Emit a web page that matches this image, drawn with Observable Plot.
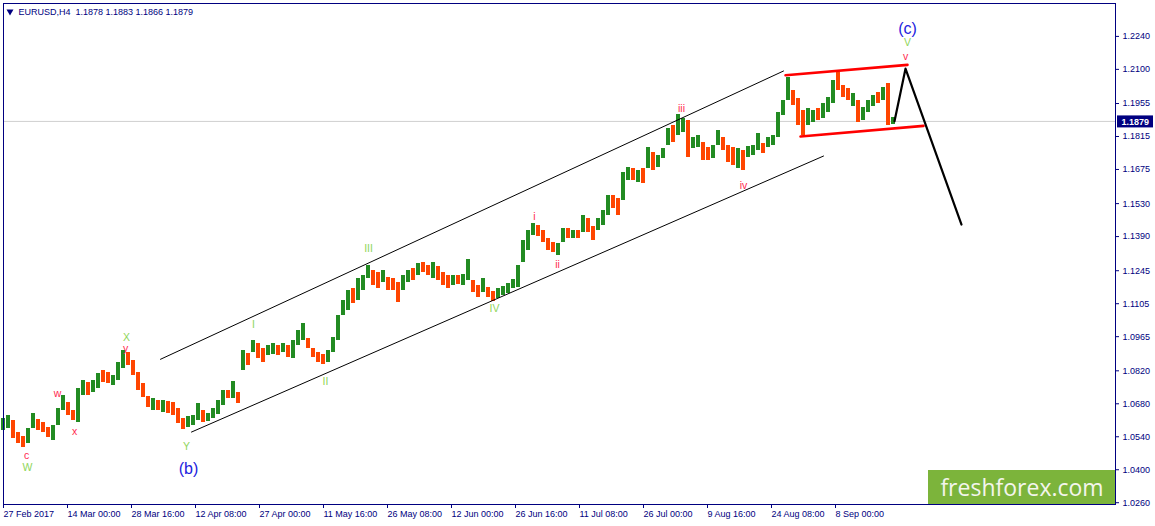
<!DOCTYPE html>
<html><head><meta charset="utf-8">
<script src="https://cdn.jsdelivr.net/npm/d3@7"></script>
<script src="https://cdn.jsdelivr.net/npm/@observablehq/plot@0.6"></script>
<style>html,body{margin:0;padding:0;background:#fff;}</style>
</head><body><div id="chart"></div>
<script>
// ---- header ----
const symbol = "EURUSD";
const timeframe = "H4";
const lastOHLC = [1.1878, 1.1883, 1.1866, 1.1879];

// ---- price history, sampled every 5 H4 bars (group high / low, group direction) ----
const groupBars = 5;
const hi = [
1.0618,1.0631,1.0609,1.0558,1.0541,1.0575,1.0638,1.0614,1.0601,1.0580,
1.0588,1.0660,1.0716,1.0686,1.0651,1.0745,1.0779,1.0770,1.0779,1.0809,
1.0822,1.0813,1.0800,1.0856,1.0906,1.0898,1.0864,1.0813,1.0766,1.0711,
1.0703,1.0694,1.0694,1.0690,1.0686,1.0660,1.0618,1.0627,1.0631,1.0681,
1.0651,1.0638,1.0660,1.0694,1.0737,1.0737,1.0774,1.0728,1.0906,1.0893,
1.0949,1.0936,1.0915,1.0928,1.0936,1.0928,1.0936,1.0928,1.0949,1.0992,
1.1021,1.0957,1.0915,1.0898,1.0889,1.0906,1.0962,1.1055,1.1119,1.1161,
1.1169,1.1212,1.1225,1.1267,1.1247,1.1238,1.1247,1.1217,1.1212,1.1195,
1.1225,1.1247,1.1255,1.1275,1.1280,1.1267,1.1280,1.1263,1.1238,1.1225,
1.1225,1.1225,1.1229,1.1293,1.1204,1.1182,1.1212,1.1174,1.1157,1.1169,
1.1178,1.1191,1.1208,1.1267,1.1374,1.1416,1.1446,1.1437,1.1416,1.1381,
1.1365,1.1361,1.1424,1.1424,1.1416,1.1416,1.1480,1.1467,1.1433,1.1467,
1.1501,1.1565,1.1565,1.1552,1.1662,1.1683,1.1679,1.1671,1.1679,1.1768,
1.1748,1.1735,1.1764,1.1849,1.1862,1.1908,1.1891,1.1883,1.1811,1.1819,
1.1789,1.1768,1.1776,1.1841,1.1811,1.1776,1.1768,1.1764,1.1755,1.1772,
1.1776,1.1828,1.1785,1.1811,1.1819,1.1917,1.1968,1.2066,1.2010,1.1977,
1.1925,1.1934,1.1925,1.1934,1.1955,1.1981,1.2053,1.2087,1.2031,1.2018,
1.1997,1.1968,1.1938,1.1968,1.1990,1.2001,1.2023,1.2040,1.1895
];
const lo = [
1.0567,1.0575,1.0532,1.0511,1.0495,1.0511,1.0575,1.0567,1.0558,1.0537,
1.0524,1.0588,1.0651,1.0631,1.0609,1.0601,1.0716,1.0716,1.0728,1.0745,
1.0770,1.0766,1.0758,1.0779,1.0830,1.0843,1.0800,1.0737,1.0707,1.0664,
1.0651,1.0651,1.0643,1.0638,1.0631,1.0597,1.0571,1.0580,1.0588,1.0609,
1.0601,1.0605,1.0618,1.0635,1.0673,1.0703,1.0703,1.0681,1.0822,1.0843,
1.0898,1.0873,1.0856,1.0885,1.0889,1.0885,1.0898,1.0877,1.0873,1.0928,
1.0949,1.0915,1.0877,1.0856,1.0847,1.0856,1.0898,1.0949,1.1055,1.1076,
1.1106,1.1119,1.1161,1.1212,1.1182,1.1169,1.1195,1.1161,1.1161,1.1111,
1.1161,1.1195,1.1204,1.1225,1.1238,1.1225,1.1212,1.1204,1.1182,1.1169,
1.1182,1.1187,1.1182,1.1204,1.1152,1.1131,1.1152,1.1131,1.1115,1.1128,
1.1140,1.1148,1.1169,1.1174,1.1280,1.1331,1.1394,1.1390,1.1365,1.1331,
1.1323,1.1310,1.1365,1.1381,1.1381,1.1381,1.1407,1.1407,1.1374,1.1416,
1.1437,1.1480,1.1510,1.1480,1.1543,1.1628,1.1628,1.1620,1.1616,1.1679,
1.1671,1.1683,1.1722,1.1776,1.1789,1.1819,1.1832,1.1726,1.1764,1.1768,
1.1713,1.1713,1.1722,1.1776,1.1755,1.1705,1.1692,1.1679,1.1671,1.1726,
1.1735,1.1755,1.1743,1.1768,1.1776,1.1811,1.1904,1.1968,1.1947,1.1862,
1.1819,1.1862,1.1874,1.1883,1.1891,1.1917,1.1955,1.2010,1.1981,1.1968,
1.1942,1.1874,1.1883,1.1917,1.1942,1.1955,1.1968,1.1862,1.1866
];
const up = [
1,1,0,0,0,1,1,0,0,0,
1,1,1,0,0,1,1,0,1,1,
0,0,1,1,1,0,0,0,0,0,
1,0,1,0,0,0,0,1,1,1,
0,1,1,1,1,0,1,0,1,0,
1,0,0,1,1,0,1,0,1,1,
1,0,0,0,0,1,1,1,1,1,
0,1,1,1,0,0,1,0,0,0,
1,1,0,1,0,0,1,0,0,0,
1,0,1,1,0,0,1,0,0,1,
1,1,1,1,1,1,1,0,0,0,
0,1,1,0,1,0,1,0,0,1,
1,1,0,0,1,1,0,1,0,1,
0,1,1,1,0,1,1,0,1,1,
0,0,1,1,0,0,0,1,0,1,
1,1,0,1,1,1,1,1,0,0,
0,1,1,0,1,1,1,0,0,0,
1,0,1,1,1,0,1,0,1
];

// ---- axes ----
const priceTicks = [1.2240,1.2100,1.1955,1.1815,1.1675,1.1530,1.1390,1.1245,1.1105,1.0965,1.0820,1.0680,1.0540,1.0400,1.0260];
const dateLabels = ["27 Feb 2017","14 Mar 00:00","28 Mar 16:00","12 Apr 08:00","27 Apr 00:00","11 May 16:00","26 May 08:00","12 Jun 00:00","26 Jun 16:00","11 Jul 08:00","26 Jul 00:00","9 Aug 16:00","24 Aug 08:00","8 Sep 00:00"];
const barsPerDateTick = 64;

// ---- trend lines (bar index, price) ----
const channelTopBar = [157, 780];
const channelTopPrice = [1.0869, 1.2093];
const channelBottomBar = [188, 820];
const channelBottomPrice = [1.0560, 1.1732];
const flagTopBar = [782, 904];
const flagTopPrice = [1.2075, 1.2119];
const flagBottomBar = [797, 920];
const flagBottomPrice = [1.1815, 1.1860];
const forecastBar = [891, 902, 958];
const forecastPrice = [1.1880, 1.2103, 1.1441];

// ---- wave labels ----
const waveText = ["c","W","w","x","X","y","Y","(b)","I","II","III","IV","i","ii","iii","iv","(c)","V","v"];
const waveBar = [23,24,54,71,123,122,183,185,250,322,365,491,531,554,678,740,904,904,902];
const wavePrice = [1.0458,1.0410,1.0722,1.0562,1.0963,1.0914,1.0498,1.0405,1.1017,1.0776,1.1338,1.1083,1.1475,1.1269,1.1933,1.1606,1.2272,1.2213,1.2156];
const waveDegree = ["minute","minor","minute","minute","minor","minute","minor","intermediate","minor","minor","minor","minor","minute","minute","minute","minute","intermediate","minor","minute"];

const brand = "freshforex.com";

// ---- build ----
const navy = "#000080";
const bullColor = "#228b22";
const bearColor = "#ff4500";
const candles = hi.map((h, i) => ({bar: i * groupBars, hi: h, lo: lo[i], up: up[i] === 1}));
const waves = waveText.map((t, i) => ({text: t, bar: waveBar[i], price: wavePrice[i], degree: waveDegree[i]}));
const pairs = (a, b) => a.map((v, i) => [v, b[i]]);
const lastClose = lastOHLC[3];

function overlay(index, scales, values, dims) {
  const g = d3.create("svg:g");
  const right = dims.width - dims.marginRight;
  const bottom = dims.height - dims.marginBottom;
  const yp = scales.y(lastClose);
  g.append("rect").attr("x", right + 2).attr("y", yp - 5.5).attr("width", 36).attr("height", 12).attr("fill", navy);
  g.append("text").attr("x", right + 6.5).attr("y", yp + 0.5).attr("dy", "0.35em").attr("text-anchor", "start")
    .attr("fill", "#fff").attr("font-size", 9).attr("font-weight", "bold").text(lastClose.toFixed(4));
  g.append("rect").attr("x", right - 187).attr("y", bottom - 34).attr("width", 187).attr("height", 34).attr("fill", "#7cb43b");
  g.append("text").attr("x", right - 93).attr("y", bottom - 8.5).attr("text-anchor", "middle")
    .attr("font-family", "'Open Sans', sans-serif").attr("font-size", 23).attr("fill", "#f3f5ec").text(brand);
  return g.node();
}

const labelMark = (deg, color, size) => Plot.text(waves, {
  filter: d => d.degree === deg, x: "bar", y: "price", text: "text",
  fill: color, fontSize: size, textAnchor: "middle", lineAnchor: "middle"
});

const chart = Plot.plot({
  width: 1155, height: 526,
  marginLeft: 3, marginRight: 40, marginTop: 3, marginBottom: 22,
  style: {fontFamily: "'Liberation Sans', Arial, sans-serif", fontSize: "9px", background: "#fff", overflow: "visible"},
  x: {domain: [0, 1112], axis: null},
  y: {domain: [1.02524, 1.23797], axis: null},
  marks: [
    Plot.ruleY([lastClose], {stroke: "#cfcfcf"}),
    Plot.rect(candles, {filter: d => d.up, x1: d => d.bar - 2, x2: d => d.bar + 2, y1: "lo", y2: "hi", fill: bullColor, shapeRendering: "crispEdges"}),
    Plot.rect(candles, {filter: d => !d.up, x1: d => d.bar - 2, x2: d => d.bar + 2, y1: "lo", y2: "hi", fill: bearColor, shapeRendering: "crispEdges"}),
    Plot.line(pairs(channelTopBar, channelTopPrice), {x: d => d[0], y: d => d[1], stroke: "#000", strokeWidth: 1}),
    Plot.line(pairs(channelBottomBar, channelBottomPrice), {x: d => d[0], y: d => d[1], stroke: "#000", strokeWidth: 1}),
    Plot.line(pairs(flagTopBar, flagTopPrice), {x: d => d[0], y: d => d[1], stroke: "#ff0000", strokeWidth: 2.6}),
    Plot.line(pairs(flagBottomBar, flagBottomPrice), {x: d => d[0], y: d => d[1], stroke: "#ff0000", strokeWidth: 2.6}),
    Plot.line(pairs(forecastBar, forecastPrice), {x: d => d[0], y: d => d[1], stroke: "#000", strokeWidth: 2.2}),
    labelMark("minute", "#ff2a50", 10.5),
    labelMark("minor", "#8fd65a", 10.5),
    labelMark("intermediate", "#2222dd", 16),
    Plot.frame({stroke: navy}),
    Plot.axisY(priceTicks, {anchor: "right", tickSize: 3, tickPadding: 4, tickFormat: d => d.toFixed(4), color: navy, label: null}),
    Plot.axisX(dateLabels.map((_, i) => i * barsPerDateTick), {anchor: "bottom", tickSize: 4, tickPadding: 2, tickFormat: d => dateLabels[d / barsPerDateTick], textAnchor: "start", color: navy, label: null}),
    Plot.dot([0], {frameAnchor: "top-left", dx: 6.5, dy: 8, symbol: "triangle", rotate: 180, r: 2.6, fill: navy}),
    Plot.text([`${symbol},${timeframe}\u00a0\u00a0${lastOHLC.map(v => v.toFixed(4)).join(" ")}`], {frameAnchor: "top-left", dx: 15, dy: 8.5, text: d => d, textAnchor: "start", lineAnchor: "middle", fill: navy}),
    overlay
  ]
});
document.getElementById("chart").appendChild(chart);
</script>
</body></html>
